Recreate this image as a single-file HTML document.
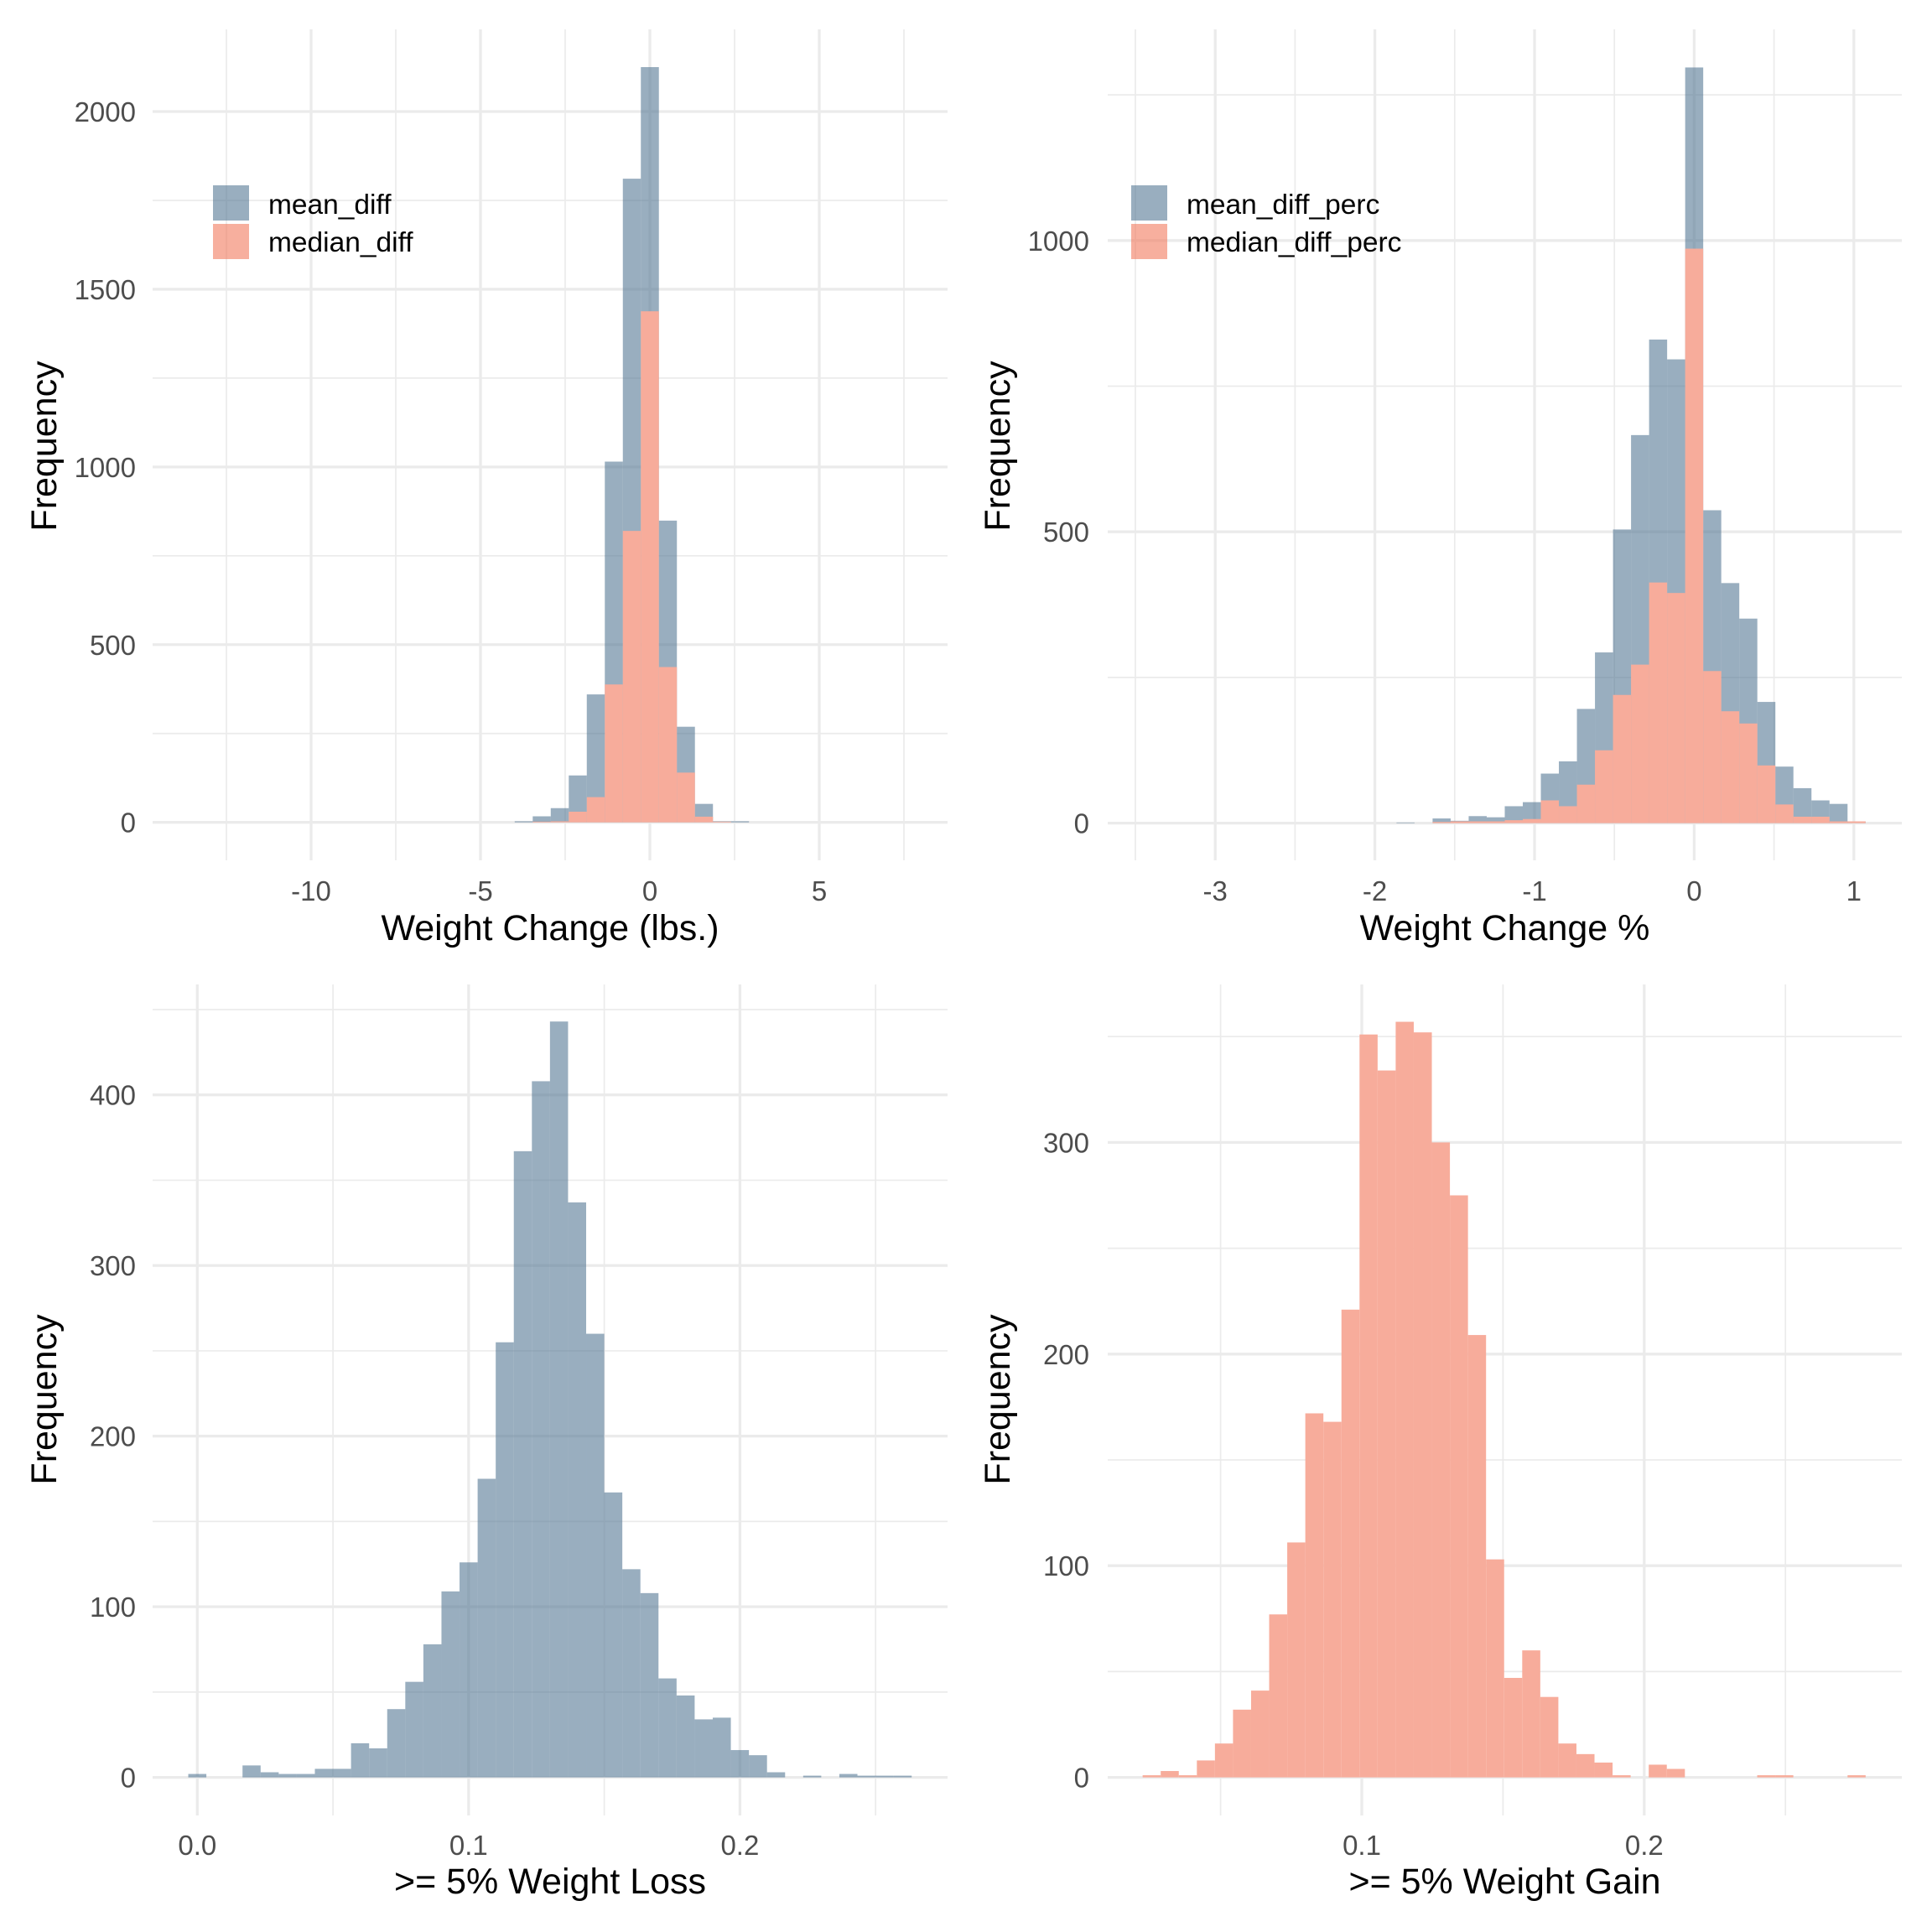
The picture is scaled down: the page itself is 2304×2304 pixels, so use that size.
<!DOCTYPE html>
<html><head><meta charset="utf-8"><style>
html,body{margin:0;padding:0;background:#fff}
svg{display:block}
text{font-family:"Liberation Sans",Arial,sans-serif}
</style></head><body>
<svg id="chart" width="2304" height="2304" viewBox="0 0 2304 2304" xmlns="http://www.w3.org/2000/svg"></svg>
<script>
// ---- data ----
// Panel 1: Weight Change (lbs.)
const p1BinStart = -3.724;
const p1BinWidth = 0.532;
const p1Mean = [3,17,40,132,360,1015,1811,2125,849,269,52,3,3];
const p1Median = [0,2,3,30,71,388,820,1438,437,140,16,2,0];
const p1XTicks = [-10,-5,0,5];
const p1XTickLabels = ["-10","-5","0","5"];
const p1YTicks = [0,500,1000,1500,2000];
const p1YTickLabels = ["0","500","1000","1500","2000"];
// Panel 2: Weight Change %
const p2BinStart = -1.808;
const p2BinWidth = 0.113;
const p2Mean = [1,0,8,4,12,10,29,36,85,106,196,293,504,666,830,796,1297,537,412,351,208,97,60,39,33,3];
const p2Median = [0,0,2,3,3,3,5,7,39,29,66,125,220,272,413,395,986,261,192,171,99,32,11,11,3,3];
const p2XTicks = [-3,-2,-1,0,1];
const p2XTickLabels = ["-3","-2","-1","0","1"];
const p2YTicks = [0,500,1000];
const p2YTickLabels = ["0","500","1000"];
// Panel 3: >= 5% Weight Loss
const p3BinStart = 0;
const p3BinWidth = 0.006666;
const p3Counts = [2,0,0,7,3,2,2,5,5,20,17,40,56,78,109,126,175,255,367,408,443,337,260,167,122,108,58,48,34,35,16,13,3,0,1,0,2,1,1,1];
const p3XTicks = [0,0.1,0.2];
const p3XTickLabels = ["0.0","0.1","0.2"];
const p3YTicks = [0,100,200,300,400];
const p3YTickLabels = ["0","100","200","300","400"];
// Panel 4: >= 5% Weight Gain
const p4BinStart = 0.0256;
const p4BinWidth = 0.0064;
const p4Counts = [1,3,1,8,16,32,41,77,111,172,168,221,351,334,357,352,300,275,209,103,47,60,38,16,11,7,1,0,6,4,0,0,0,0,1,1,0,0,0,1];
const p4XTicks = [0.1,0.2];
const p4XTickLabels = ["0.1","0.2"];
const p4YTicks = [0,100,200,300];
const p4YTickLabels = ["0","100","200","300"];

const NS = "http://www.w3.org/2000/svg";
const svg = document.getElementById('chart');
const BLUE = "rgb(79,115,145)", BLUE_OP = 0.58, PINK = "#f7ac9b";

function mk(tag, attrs, parent){
  const e = document.createElementNS(NS, tag);
  for (const k in attrs) e.setAttribute(k, attrs[k]);
  (parent||svg).appendChild(e);
  return e;
}
function lin(v0,p0,v1,p1){ return v => p0 + (v - v0) * (p1 - p0) / (v1 - v0); }

function panel(cfg){
  const g = mk('g', {});
  
  
  const X = cfg.x, Y = cfg.y;
  cfg.xMinor.forEach(v => {
    const l = mk('line', {x1:X(v), x2:X(v), y1:cfg.top, y2:cfg.bottom, stroke:'#ebebeb', 'stroke-width':1.7}, g);
    
    
  });
  cfg.yMinor.forEach(v => {
    const l = mk('line', {x1:cfg.left, x2:cfg.right, y1:Y(v), y2:Y(v), stroke:'#ebebeb', 'stroke-width':1.7}, g);
    
    
  });
  cfg.xTicks.forEach(v => {
    const l = mk('line', {x1:X(v), x2:X(v), y1:cfg.top, y2:cfg.bottom, stroke:'#ebebeb', 'stroke-width':3.3}, g);
    
    
  });
  cfg.yTicks.forEach(v => {
    const l = mk('line', {x1:cfg.left, x2:cfg.right, y1:Y(v), y2:Y(v), stroke:'#ebebeb', 'stroke-width':3.3}, g);
    
    
  });
  cfg.series.forEach(s => {
    s.counts.forEach((c,i) => {
      if (c <= 0) return;
      const x0 = X(s.start + (i - 0.5) * s.width), x1 = X(s.start + (i + 0.5) * s.width);
      const r = mk('rect', {x:x0, y:Y(c), width:x1 - x0, height:Y(0) - Y(c), fill:s.color, 'fill-opacity':s.op}, g);
      
      
    });
  });
  cfg.xTicks.forEach((v,i) => {
    const t = mk('text', {x:X(v), y:cfg.xLabelY, 'text-anchor':'middle', 'font-size':33, fill:'#4d4d4d'}, g);
    t.textContent = cfg.xLabels[i];
    
    
  });
  cfg.yTicks.forEach((v,i) => {
    const t = mk('text', {x:cfg.yLabelX, y:Y(v) + 12, 'text-anchor':'end', 'font-size':33, fill:'#4d4d4d'}, g);
    t.textContent = cfg.yLabels[i];
    
    
  });
  const xt = mk('text', {x:(cfg.left + cfg.right)/2, y:cfg.xTitleY, 'text-anchor':'middle', 'font-size':43, fill:'#000'}, g);
  xt.textContent = cfg.xTitle;
  
  
  const yt = mk('text', {x:0, y:0, 'text-anchor':'middle', 'font-size':43, fill:'#000', transform:'translate(' + (cfg.yTitleX + 27) + ',' + cfg.yTitleY + ') rotate(-90)'}, g);
  yt.textContent = 'Frequency';
  
  
  if (cfg.legend) {
    const lg = mk('g', {}, g);
    
    
    cfg.legend.forEach((it, i) => {
      const r = mk('rect', {x:cfg.legendX, y:221 + i*46, width:43, height:42, fill:it.color, 'fill-opacity':0.58}, lg);
      
      
      const t = mk('text', {x:cfg.legendX + 66, y:255 + i*45, 'font-size':33.5, fill:'#000'}, lg);
      t.textContent = it.label;
      
      
    });
  }
}

function range(a,b,s){ const r=[]; for(let v=a; v<=b+1e-9; v+=s) r.push(+v.toFixed(6)); return r; }

panel({
  name:'panel-weight-change-lbs',
  x: lin(0,775,5,977), y: lin(0,980.7,2000,133),
  left:182, right:1130, top:35, bottom:1026,
  xTicks:p1XTicks, xLabels:p1XTickLabels, yTicks:p1YTicks, yLabels:p1YTickLabels,
  xMinor:range(-12.5,7.5,5), yMinor:range(250,1750,500),
  series:[
    {counts:p1Mean, start:p1BinStart, width:p1BinWidth, color:BLUE, op:BLUE_OP, barName:'bar-mean-diff'},
    {counts:p1Median, start:p1BinStart, width:p1BinWidth, color:PINK, op:1, barName:'bar-median-diff'}
  ],
  xLabelY:1074, yLabelX:162, xTitleY:1121, xTitle:'Weight Change (lbs.)', yTitleX:40, yTitleY:532,
  legendX:254,
  legend:[{color:BLUE,label:'mean_diff'},{color:'rgb(242,117,88)',label:'median_diff'}]
});
panel({
  name:'panel-weight-change-percent',
  x: lin(0,2020.4,1,2210.8), y: lin(0,981.6,1000,286.8),
  left:1321, right:2268, top:35, bottom:1026,
  xTicks:p2XTicks, xLabels:p2XTickLabels, yTicks:p2YTicks, yLabels:p2YTickLabels,
  xMinor:range(-3.5,0.5,1), yMinor:range(250,1250,500),
  series:[
    {counts:p2Mean, start:p2BinStart, width:p2BinWidth, color:BLUE, op:BLUE_OP, barName:'bar-mean-diff-perc'},
    {counts:p2Median, start:p2BinStart, width:p2BinWidth, color:PINK, op:1, barName:'bar-median-diff-perc'}
  ],
  xLabelY:1074, yLabelX:1299, xTitleY:1121, xTitle:'Weight Change %', yTitleX:1177, yTitleY:532,
  legendX:1349,
  legend:[{color:BLUE,label:'mean_diff_perc'},{color:'rgb(242,117,88)',label:'median_diff_perc'}]
});
panel({
  name:'panel-weight-loss',
  x: lin(0,235.3,0.2,882.4), y: lin(0,2119.6,400,1305.7),
  left:182, right:1130, top:1174, bottom:2165,
  xTicks:p3XTicks, xLabels:p3XTickLabels, yTicks:p3YTicks, yLabels:p3YTickLabels,
  xMinor:range(0.05,0.25,0.1), yMinor:range(50,450,100),
  series:[{counts:p3Counts, start:p3BinStart, width:p3BinWidth, color:BLUE, op:BLUE_OP, barName:'bar-weight-loss'}],
  xLabelY:2212, yLabelX:162, xTitleY:2258, xTitle:'>= 5% Weight Loss', yTitleX:40, yTitleY:1669
});
panel({
  name:'panel-weight-gain',
  x: lin(0.1,1624,0.2,1960.8), y: lin(0,2119.6,300,1362.4),
  left:1321, right:2268, top:1174, bottom:2165,
  xTicks:p4XTicks, xLabels:p4XTickLabels, yTicks:p4YTicks, yLabels:p4YTickLabels,
  xMinor:range(0.05,0.25,0.1), yMinor:range(50,350,100),
  series:[{counts:p4Counts, start:p4BinStart, width:p4BinWidth, color:PINK, op:1, barName:'bar-weight-gain'}],
  xLabelY:2212, yLabelX:1299, xTitleY:2258, xTitle:'>= 5% Weight Gain', yTitleX:1177, yTitleY:1669
});
</script>
</body></html>
